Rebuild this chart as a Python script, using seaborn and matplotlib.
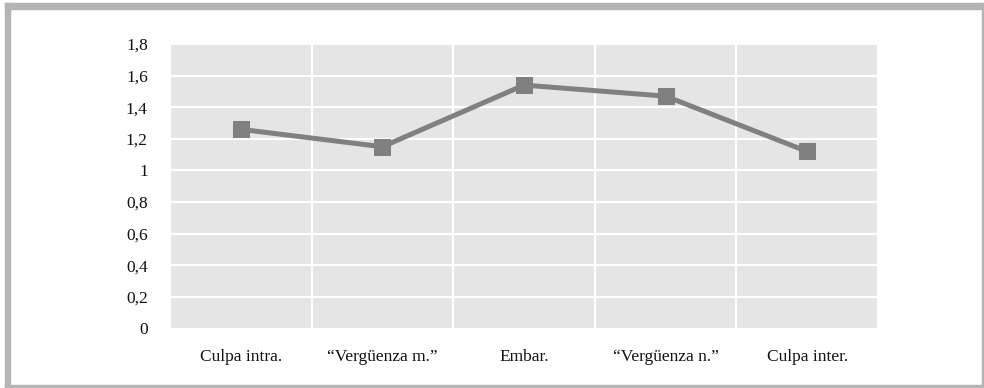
import numpy as np
import pandas as pd
import seaborn as sns
import matplotlib.pyplot as plt
from matplotlib.patches import Rectangle

categories = ['Culpa intra.', '\u201cVergüenza m.\u201d', 'Embar.', '\u201cVergüenza n.\u201d', 'Culpa inter.']
values = [1.26, 1.15, 1.54, 1.47, 1.12]
y_ticks = [0, 0.2, 0.4, 0.6, 0.8, 1, 1.2, 1.4, 1.6, 1.8]
y_labels = ['0', '0,2', '0,4', '0,6', '0,8', '1', '1,2', '1,4', '1,6', '1,8']

df = pd.DataFrame({'categoria': categories, 'valor': values})

sns.set_style('darkgrid', {'axes.facecolor': '#e5e5e5', 'grid.color': 'white'})
plt.rcParams['font.family'] = ['Liberation Serif', 'DejaVu Serif']

W, H = 984, 388
fig = plt.figure(figsize=(W / 100, H / 100), dpi=100)
ax = fig.add_axes([170 / W, 1 - 328.5 / H, (878 - 170) / W, (328.5 - 44) / H])

sns.lineplot(data=df, x='categoria', y='valor', ax=ax, color='#808080',
             linewidth=3.6, marker='s', markersize=11.5,
             markeredgecolor='#808080', markerfacecolor='#808080', sort=False)

ax.set_xlim(-0.5, 4.5)
ax.set_ylim(0, 1.8)
ax.set_yticks(y_ticks)
ax.set_yticklabels(y_labels)
ax.set_xticks(np.arange(-0.5, 5, 1), minor=True)
ax.grid(False)
ax.grid(True, axis='y', which='major', color='white', linewidth=1.5)
ax.grid(True, axis='x', which='minor', color='white', linewidth=1.5)
ax.tick_params(axis='both', which='both', length=0, labelsize=12.5, colors='#111111')
ax.tick_params(axis='y', pad=16)
ax.tick_params(axis='x', pad=15)
ax.set_xlabel('')
ax.set_ylabel('')
for s in ax.spines.values():
    s.set_visible(False)

# marco gris alrededor de la figura
border = '#b4b4b4'
fig.add_artist(Rectangle((5 / W, 0), 5 / W, 1 - 3 / H, transform=fig.transFigure, color=border))
fig.add_artist(Rectangle((5 / W, 1 - 9 / H), (984 - 5) / W, 6 / H, transform=fig.transFigure, color=border))
fig.add_artist(Rectangle((982 / W, 0), 2 / W, 1 - 3 / H, transform=fig.transFigure, color=border))
fig.add_artist(Rectangle((5 / W, 0), (984 - 5) / W, 3 / H, transform=fig.transFigure, color=border))

fig.savefig('out.png', dpi=100, facecolor='white')
